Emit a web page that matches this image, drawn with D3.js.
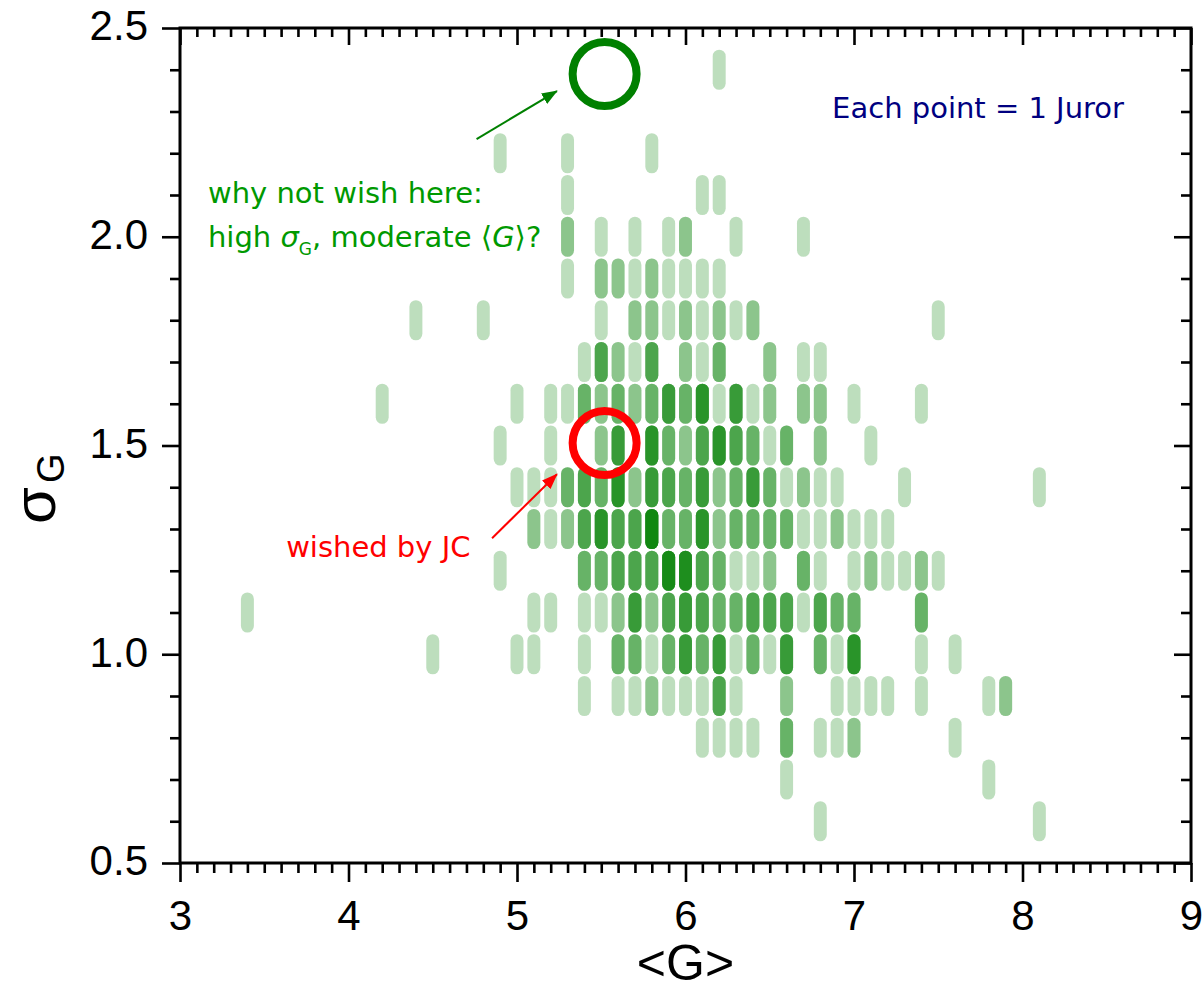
<!DOCTYPE html>
<html>
<head>
<meta charset="utf-8">
<script src="https://cdn.jsdelivr.net/npm/d3@7"></script>
<style>
  html, body { margin: 0; padding: 0; background: #fff; }
  svg { display: block; }
</style>
</head>
<body>
<svg id="chart" width="1203" height="990"></svg>
<script>
// Jurors binned by their grade spread (sigma_G) and mean grade <G>.
// Each row: one sigma level, the mean grades present and how many jurors sit there.
const sigmaLevels = [2.4, 2.2, 2.1, 2.0, 1.9, 1.8, 1.7, 1.6, 1.5, 1.4, 1.3, 1.2, 1.1, 1.0, 0.9, 0.8, 0.7, 0.6];

const meanGrades = [
  [6.2],
  [4.9, 5.3, 5.8],
  [5.3, 6.1, 6.2],
  [5.3, 5.5, 5.7, 5.9, 6.0, 6.3, 6.7],
  [5.3, 5.5, 5.6, 5.7, 5.8, 5.9, 6.0, 6.1, 6.2],
  [4.4, 4.8, 5.5, 5.7, 5.8, 5.9, 6.0, 6.1, 6.2, 6.3, 6.4, 7.5],
  [5.4, 5.5, 5.6, 5.7, 5.8, 6.0, 6.1, 6.2, 6.5, 6.7, 6.8],
  [4.2, 5.0, 5.2, 5.3, 5.4, 5.5, 5.6, 5.7, 5.8, 5.9, 6.0, 6.1, 6.2, 6.3, 6.4, 6.5, 6.7, 6.8, 7.0, 7.4],
  [4.9, 5.2, 5.5, 5.6, 5.8, 5.9, 6.0, 6.1, 6.2, 6.3, 6.4, 6.5, 6.6, 6.8, 7.1],
  [5.0, 5.1, 5.2, 5.3, 5.4, 5.5, 5.6, 5.7, 5.8, 5.9, 6.0, 6.1, 6.2, 6.3, 6.4, 6.5, 6.6, 6.7, 6.8, 6.9, 7.3, 8.1],
  [5.1, 5.2, 5.3, 5.4, 5.5, 5.6, 5.7, 5.8, 5.9, 6.0, 6.1, 6.2, 6.3, 6.4, 6.5, 6.6, 6.7, 6.8, 6.9, 7.0, 7.1, 7.2],
  [4.9, 5.4, 5.5, 5.6, 5.7, 5.8, 5.9, 6.0, 6.1, 6.2, 6.3, 6.4, 6.5, 6.7, 6.8, 7.0, 7.1, 7.2, 7.3, 7.4, 7.5],
  [3.4, 5.1, 5.2, 5.4, 5.5, 5.6, 5.7, 5.8, 5.9, 6.0, 6.1, 6.2, 6.3, 6.4, 6.5, 6.6, 6.7, 6.8, 6.9, 7.0, 7.4],
  [4.5, 5.0, 5.1, 5.4, 5.6, 5.7, 5.8, 5.9, 6.0, 6.1, 6.2, 6.3, 6.4, 6.5, 6.6, 6.8, 6.9, 7.0, 7.4, 7.6],
  [5.4, 5.6, 5.7, 5.8, 5.9, 6.0, 6.1, 6.2, 6.3, 6.6, 6.9, 7.0, 7.1, 7.2, 7.4, 7.8, 7.9],
  [6.1, 6.2, 6.3, 6.4, 6.6, 6.8, 6.9, 7.0, 7.6],
  [6.6, 7.8],
  [6.8, 8.1]
];

const jurorCounts = [
  [1],
  [1, 1, 1],
  [1, 1, 1],
  [2, 1, 1, 1, 2, 1, 1],
  [1, 2, 2, 1, 2, 1, 1, 1, 1],
  [1, 1, 1, 2, 2, 1, 2, 1, 2, 1, 2, 1],
  [1, 4, 2, 1, 4, 2, 1, 3, 2, 1, 1],
  [1, 1, 1, 1, 3, 2, 3, 2, 3, 5, 3, 6, 1, 5, 1, 2, 2, 2, 1, 1],
  [1, 1, 2, 5, 6, 3, 2, 4, 6, 4, 3, 1, 3, 2, 1],
  [1, 1, 1, 3, 4, 3, 6, 2, 5, 4, 3, 5, 2, 3, 5, 3, 1, 2, 1, 1, 1, 1],
  [2, 1, 2, 4, 6, 4, 4, 9, 3, 3, 6, 2, 3, 3, 3, 3, 1, 1, 2, 1, 1, 1],
  [1, 3, 3, 4, 4, 4, 8, 7, 4, 3, 1, 1, 2, 3, 1, 1, 2, 1, 1, 2, 1],
  [1, 1, 1, 1, 1, 2, 5, 2, 4, 5, 4, 3, 3, 4, 4, 4, 1, 4, 3, 3, 3],
  [1, 1, 1, 1, 3, 3, 1, 3, 5, 3, 5, 1, 3, 1, 5, 3, 1, 6, 1, 1],
  [1, 1, 1, 2, 1, 1, 1, 4, 1, 2, 1, 1, 1, 1, 1, 1, 2],
  [1, 1, 1, 1, 3, 1, 1, 2, 1],
  [1, 1],
  [1, 1]
];

const xTicks = [3, 4, 5, 6, 7, 8, 9];
const yTicks = [0.5, 1.0, 1.5, 2.0, 2.5];

// Highlighted spots, in data units (<G>, sigma_G)
const wishedSpot = [5.52, 1.506];
const proposedSpot = [5.52, 2.39];

const svg = d3.select("#chart");

const x = d3.scaleLinear().domain([3, 9]).range([180, 1191]);
const y = d3.scaleLinear().domain([0.5, 2.5]).range([863, 28]);

// one record per juror; overlapping translucent pills darken where jurors coincide
const jurors = [];
sigmaLevels.forEach((s, i) => {
  meanGrades[i].forEach((g, j) => {
    for (let k = 0; k < jurorCounts[i][j]; k++) jurors.push({ g: g, s: s });
  });
});

const pillW = x(3.077) - x(3);
const pillH = y(0.5) - y(0.596);

svg.append("g")
  .selectAll("rect")
  .data(jurors)
  .join("rect")
  .attr("x", d => x(d.g) - pillW / 2)
  .attr("y", d => y(d.s) - pillH / 2)
  .attr("width", pillW)
  .attr("height", pillH)
  .attr("rx", pillW / 2)
  .attr("ry", pillW / 2)
  .attr("fill", "#008000")
  .attr("fill-opacity", 0.26);

// ---- axes ----
const minorX = d3.range(30, 91).map(v => v / 10).filter(v => Math.abs(v - Math.round(v)) > 1e-6);
const minorY = d3.range(5, 26).map(v => v / 10).filter(v => Math.abs(v * 2 - Math.round(v * 2)) > 1e-6);

function styleAxis(g) {
  g.select(".domain").remove();
  g.selectAll(".tick line").attr("stroke", "#000").attr("stroke-width", 2.6);
  g.selectAll(".tick text")
    .attr("fill", "#000")
    .style("font-family", "'Liberation Sans', Arial, sans-serif")
    .style("font-size", "42px");
}

// bottom: ticks point outward with labels
svg.append("g").attr("transform", `translate(0,${y(0.5)})`)
  .call(d3.axisBottom(x).tickValues(minorX).tickSize(10).tickSizeOuter(0).tickFormat(""))
  .call(styleAxis);
svg.append("g").attr("transform", `translate(0,${y(0.5)})`)
  .call(d3.axisBottom(x).tickValues(xTicks).tickSize(19).tickSizeOuter(0).tickPadding(18).tickFormat(d3.format("d")))
  .call(styleAxis);

// top: ticks point into the frame, no labels
svg.append("g").attr("transform", `translate(0,${y(2.5)})`)
  .call(d3.axisBottom(x).tickValues(minorX).tickSize(9).tickSizeOuter(0).tickFormat(""))
  .call(styleAxis);
svg.append("g").attr("transform", `translate(0,${y(2.5)})`)
  .call(d3.axisBottom(x).tickValues(xTicks).tickSize(17).tickSizeOuter(0).tickFormat(""))
  .call(styleAxis);

// left: ticks point outward with labels
svg.append("g").attr("transform", `translate(${x(3)},0)`)
  .call(d3.axisLeft(y).tickValues(minorY).tickSize(10).tickSizeOuter(0).tickFormat(""))
  .call(styleAxis);
svg.append("g").attr("transform", `translate(${x(3)},0)`)
  .call(d3.axisLeft(y).tickValues(yTicks).tickSize(18).tickSizeOuter(0).tickPadding(14).tickFormat(d3.format(".1f")))
  .call(styleAxis)
  .call(g => g.selectAll(".tick text").attr("dy", "0.28em"));

// right: ticks point into the frame
svg.append("g").attr("transform", `translate(${x(9)},0)`)
  .call(d3.axisLeft(y).tickValues(minorY).tickSize(10).tickSizeOuter(0).tickFormat(""))
  .call(styleAxis);
svg.append("g").attr("transform", `translate(${x(9)},0)`)
  .call(d3.axisLeft(y).tickValues(yTicks).tickSize(17).tickSizeOuter(0).tickFormat(""))
  .call(styleAxis);

// frame
svg.append("rect")
  .attr("x", x(3)).attr("y", y(2.5))
  .attr("width", x(9) - x(3)).attr("height", y(0.5) - y(2.5))
  .attr("fill", "none").attr("stroke", "#000").attr("stroke-width", 3);

// axis titles
svg.append("text")
  .attr("x", (x(3) + x(9)) / 2).attr("y", 980)
  .attr("text-anchor", "middle")
  .style("font-family", "'Liberation Sans', Arial, sans-serif")
  .style("font-size", "50px")
  .text("<G>");

const yTitle = svg.append("text")
  .attr("transform", `translate(55,524) rotate(-90)`)
  .style("font-family", "'Liberation Sans', Arial, sans-serif")
  .style("font-size", "60px");
yTitle.append("tspan").text("σ");
yTitle.append("tspan").attr("dy", 9).attr("dx", 4).style("font-size", "38px").text("G");

// ---- annotations ----
const defs = svg.append("defs");
function arrowMarker(id, color) {
  defs.append("marker")
    .attr("id", id)
    .attr("viewBox", "0 0 16 12")
    .attr("refX", 15).attr("refY", 6)
    .attr("markerWidth", 16).attr("markerHeight", 12)
    .attr("markerUnits", "userSpaceOnUse")
    .attr("orient", "auto")
    .append("path").attr("d", "M0,0 L16,6 L0,12 Z").attr("fill", color);
}
arrowMarker("head-green", "#008000");
arrowMarker("head-red", "#ff0000");

const annoFont = "'DejaVu Sans', Verdana, sans-serif";

// proposed spot (green)
svg.append("circle")
  .attr("cx", x(proposedSpot[0])).attr("cy", y(proposedSpot[1])).attr("r", 32)
  .attr("fill", "none").attr("stroke", "#008000").attr("stroke-width", 8);
svg.append("line")
  .attr("x1", x(4.76)).attr("y1", y(2.234))
  .attr("x2", x(5.237)).attr("y2", y(2.349))
  .attr("stroke", "#008000").attr("stroke-width", 2)
  .attr("marker-end", "url(#head-green)");

svg.append("text")
  .attr("x", x(3.166)).attr("y", y(2.081))
  .attr("fill", "#009900")
  .style("font-family", annoFont).style("font-size", "29px")
  .text("why not wish here:");

const g2 = svg.append("text")
  .attr("x", x(3.166)).attr("y", y(1.975))
  .attr("fill", "#009900")
  .style("font-family", annoFont).style("font-size", "29px");
g2.append("tspan").text("high ");
g2.append("tspan").style("font-style", "italic").text("σ");
g2.append("tspan").attr("dy", 8).style("font-size", "17px").text("G");
g2.append("tspan").attr("dy", -8).text(", moderate ⟨");
g2.append("tspan").style("font-style", "italic").text("G");
g2.append("tspan").text("⟩?");

// wished spot (red)
svg.append("circle")
  .attr("cx", x(wishedSpot[0])).attr("cy", y(wishedSpot[1])).attr("r", 32)
  .attr("fill", "none").attr("stroke", "#ff0000").attr("stroke-width", 8);
svg.append("line")
  .attr("x1", x(4.852)).attr("y1", y(1.278))
  .attr("x2", x(5.237)).attr("y2", y(1.431))
  .attr("stroke", "#ff0000").attr("stroke-width", 2)
  .attr("marker-end", "url(#head-red)");

svg.append("text")
  .attr("x", x(3.63)).attr("y", y(1.233))
  .attr("fill", "#ff0000")
  .style("font-family", annoFont).style("font-size", "29px")
  .text("wished by JC");

svg.append("text")
  .attr("x", x(6.87)).attr("y", y(2.284))
  .attr("fill", "#000080")
  .style("font-family", annoFont).style("font-size", "29px")
  .text("Each point = 1 Juror");
</script>
</body>
</html>
